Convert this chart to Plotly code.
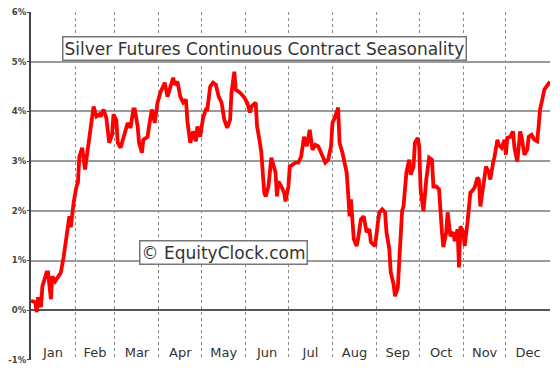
import pandas as pd
import plotly.graph_objects as go

# Day of year (0 = Jan 1) and average seasonal return (%)
days = [0, 3, 4, 5, 7, 8, 11, 12, 14, 15, 17, 19, 21, 23, 25, 27, 28, 30, 32, 33,
        34, 36, 38, 40, 41, 43, 44, 46, 48, 49, 51, 53, 55, 57, 58, 60, 61, 63, 66, 68,
        70, 72, 73, 75, 76, 78, 79, 82, 83, 85, 87, 89, 91, 92, 94, 96, 98, 100, 101, 103,
        105, 107, 109, 110, 112, 114, 116, 117, 119, 121, 123, 124, 126, 128, 130, 132, 134, 136, 138, 140,
        141, 143, 144, 146, 147, 150, 152, 154, 155, 158, 159, 161, 162, 164, 165, 167, 169, 170, 172, 173,
        174, 176, 178, 179, 181, 182, 184, 186, 188, 190, 192, 194, 196, 198, 200, 202, 204, 207, 209, 211,
        212, 214, 216, 217, 219, 222, 223, 224, 225, 227, 229, 230, 232, 234, 236, 238, 239, 242, 244, 245,
        247, 249, 250, 252, 253, 255, 256, 258, 259, 261, 262, 264, 266, 267, 269, 270, 272, 273, 274, 276,
        278, 280, 282, 283, 285, 287, 289, 290, 292, 293, 295, 297, 298, 300, 301, 302, 304, 305, 307, 309,
        310, 312, 314, 315, 316, 318, 320, 322, 323, 325, 326, 328, 329, 331, 333, 334, 335, 337, 339, 340,
        342, 344, 345, 347, 349, 350, 352, 354, 356, 357, 358, 360, 361, 362, 364, 365]
values = [0.19, 0.16, -0.04, 0.26, 0.06, 0.48, 0.76, 0.76, 0.22, 0.68, 0.58, 0.66, 0.76, 1.08, 1.56, 1.89, 1.67, 2.17, 2.49, 2.57,
          3.09, 3.27, 2.83, 3.23, 3.49, 3.83, 4.10, 3.90, 3.94, 3.90, 4.04, 3.87, 3.37, 3.53, 3.94, 3.83, 3.37, 3.27, 3.57, 3.77,
          3.67, 4.04, 4.04, 3.70, 3.37, 3.17, 3.43, 3.49, 3.70, 4.04, 3.77, 4.18, 4.38, 4.44, 4.58, 4.30, 4.48, 4.68, 4.54, 4.60,
          4.30, 4.18, 4.24, 3.80, 3.37, 3.60, 3.40, 3.70, 3.49, 3.87, 4.04, 4.04, 4.50, 4.58, 4.54, 4.30, 4.18, 3.83, 3.67, 3.83,
          4.38, 4.80, 4.44, 4.40, 4.38, 4.28, 4.18, 3.98, 4.10, 4.18, 3.70, 3.37, 3.17, 2.37, 2.29, 2.49, 3.07, 2.97, 2.77, 2.29,
          2.59, 2.49, 2.37, 2.19, 2.49, 2.89, 2.93, 2.97, 2.97, 3.09, 3.49, 3.30, 3.63, 3.23, 3.33, 3.30, 3.17, 2.97, 3.03, 3.30,
          3.77, 3.90, 4.08, 3.37, 3.17, 2.77, 2.37, 1.89, 2.23, 1.43, 1.29, 1.43, 1.83, 1.89, 1.57, 1.63, 1.37, 1.29, 1.77, 1.97,
          2.03, 1.97, 1.57, 1.23, 0.76, 0.52, 0.28, 0.46, 1.00, 2.00, 2.09, 2.77, 3.03, 2.73, 2.89, 3.37, 3.47, 3.30, 2.43, 1.99,
          2.63, 3.07, 3.03, 2.49, 2.49, 2.43, 1.57, 1.27, 1.57, 1.97, 1.49, 1.57, 1.39, 1.63, 0.86, 1.69, 1.57, 1.29, 1.77, 2.37,
          2.39, 2.47, 2.67, 2.63, 2.09, 2.57, 2.89, 2.77, 2.63, 2.97, 3.09, 3.43, 3.33, 3.27, 3.43, 3.13, 3.47, 3.49, 3.60, 3.27,
          2.99, 3.60, 3.49, 3.13, 3.23, 3.49, 3.53, 3.43, 3.40, 3.70, 4.04, 4.30, 4.44, 4.48, 4.58, 4.60]

months = ["Jan", "Feb", "Mar", "Apr", "May", "Jun", "Jul", "Aug", "Sep", "Oct", "Nov", "Dec"]
y_ticks = [-1, 0, 1, 2, 3, 4, 5, 6]
y_tick_text = ["-1%", "0%", "1%", "2%", "3%", "4%", "5%", "6%"]

base = pd.Timestamp("2023-01-01")
dates = [base + pd.Timedelta(days=d) for d in days]
month_starts = pd.date_range("2023-01-01", "2024-01-01", freq="MS")
month_mids = [s + (e - s) / 2 for s, e in zip(month_starts[:-1], month_starts[1:])]

fig = go.Figure()
fig.add_trace(go.Scatter(x=dates, y=values, mode="lines",
                         line=dict(color="#ff0000", width=3.8), hoverinfo="skip",
                         showlegend=False))

# page body has an 8px margin, so the figure is sized/offset to compensate
fig.update_layout(
    width=552, height=365,
    margin=dict(l=23, r=10, t=4, b=13),
    paper_bgcolor="white", plot_bgcolor="white",
    font=dict(family="DejaVu Sans", color="#333333"),
    xaxis=dict(
        range=[month_starts[0], month_starts[-1]], automargin=False,
        tickmode="array", tickvals=month_mids, ticktext=months,
        ticks="", showgrid=False, showline=False, zeroline=False,
        ticklabelstandoff=-17, ticklabeloverflow="allow",
        tickfont=dict(size=13, color="#333333"),
        minor=dict(tickmode="array", tickvals=list(month_starts), showgrid=True,
                   gridcolor="#8a8a8a", griddash="dot", gridwidth=1, ticks=""),
    ),
    yaxis=dict(
        range=[-1.003, 6.003], automargin=False, tickmode="array", tickvals=y_ticks, ticktext=y_tick_text,
        showgrid=True, gridcolor="#9a9a9a", gridwidth=1.5,
        zeroline=True, zerolinecolor="#555555", zerolinewidth=2,
        showline=True, linecolor="#444444", linewidth=2,
        ticks="outside", ticklen=2, tickcolor="#444444",
        ticklabeloverflow="allow", ticklabelstandoff=-1,
        tickfont=dict(size=8.5, color="#444444", family="DejaVu Sans, Verdana", weight="bold"),
    ),
    annotations=[
        dict(text="Silver Futures Continuous Contract Seasonality", xref="paper", yref="paper",
             x=0.449, y=0.93, showarrow=False, font=dict(size=17, color="#333333"),
             bgcolor="white", bordercolor="#777777", borderwidth=1.5, borderpad=1),
        dict(text="© EquityClock.com", xref="paper", yref="paper",
             x=0.370, y=0.273, showarrow=False, font=dict(size=17, color="#333333"),
             bgcolor="white", bordercolor="#777777", borderwidth=1.5, borderpad=1),
    ],
)

fig.write_html("out.html")
